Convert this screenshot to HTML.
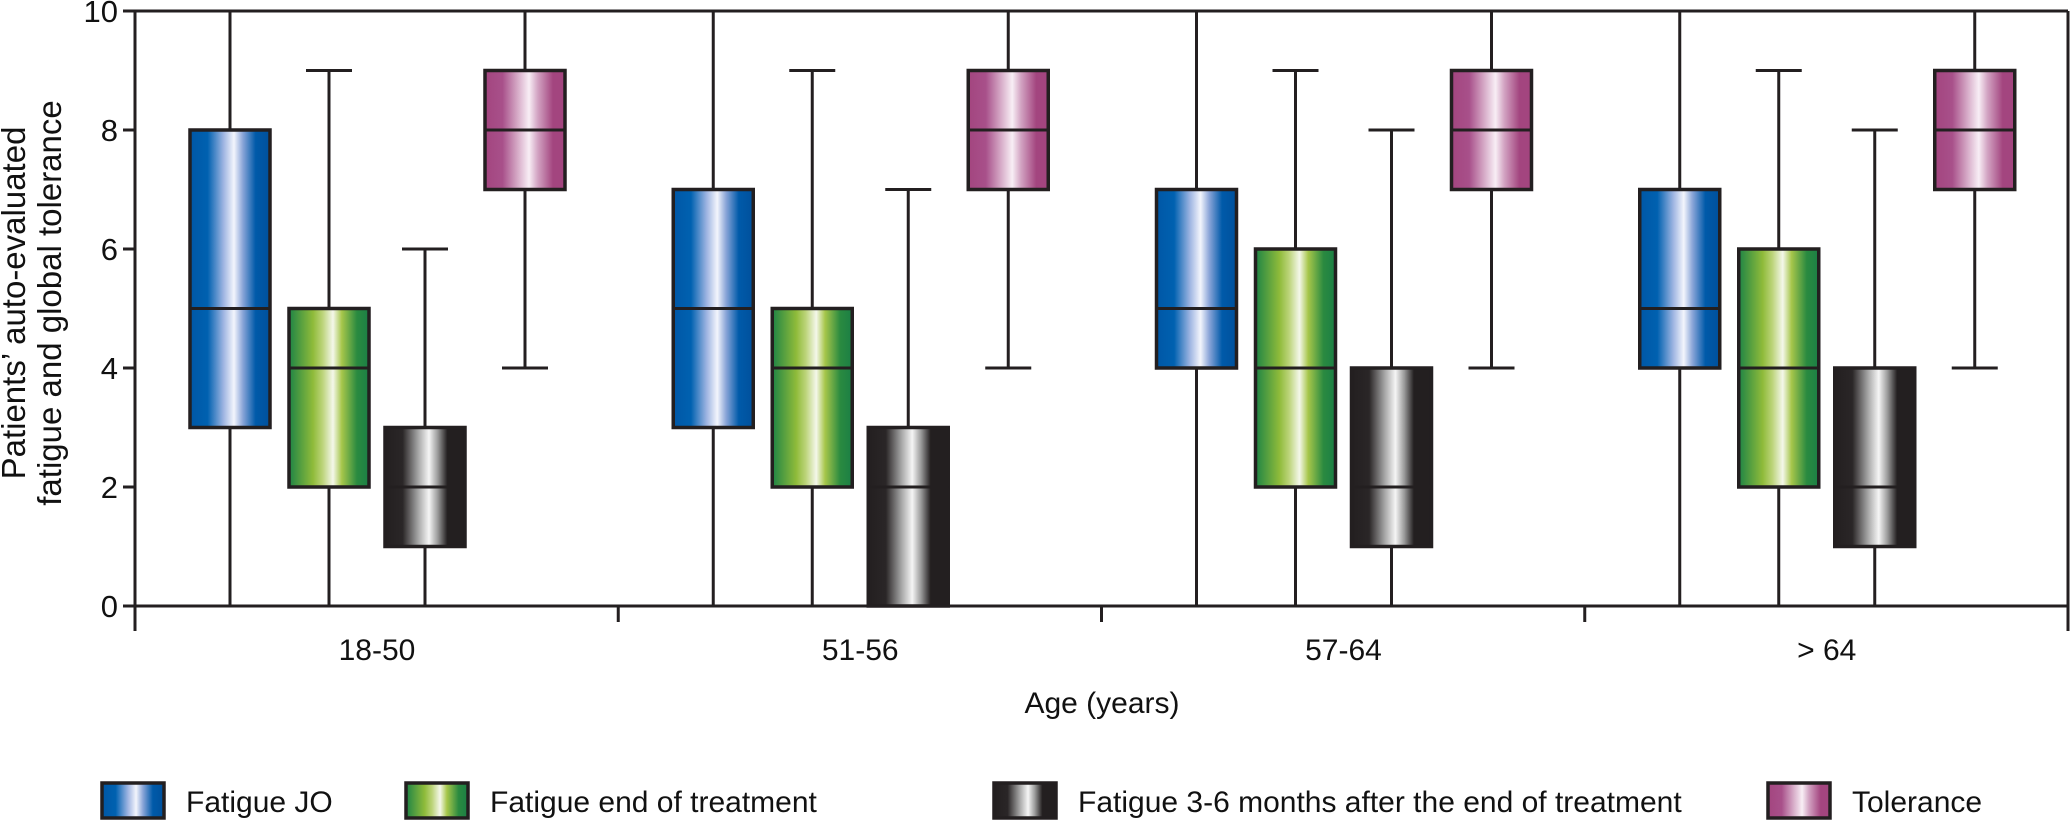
<!DOCTYPE html>
<html><head><meta charset="utf-8"><style>
html,body{margin:0;padding:0;background:#fff;}
svg{display:block;font-family:"Liberation Sans",sans-serif;}
</style></head><body>
<svg id="chart" width="2072" height="822" viewBox="0 0 2072 822" xmlns="http://www.w3.org/2000/svg">
<defs>
<linearGradient id="g-blue" x1="0" x2="1" y1="0" y2="0">
<stop offset="0" stop-color="#0057a6"/><stop offset="0.22" stop-color="#0061b0"/><stop offset="0.42" stop-color="#9fb5e2"/><stop offset="0.55" stop-color="#f3f5fc"/><stop offset="0.66" stop-color="#8aa5d8"/><stop offset="0.82" stop-color="#005aa9"/><stop offset="1" stop-color="#00509c"/></linearGradient>
<linearGradient id="g-green" x1="0" x2="1" y1="0" y2="0">
<stop offset="0" stop-color="#1e8445"/><stop offset="0.3" stop-color="#8fbb3a"/><stop offset="0.42" stop-color="#bcd47a"/><stop offset="0.55" stop-color="#f4f7ea"/><stop offset="0.66" stop-color="#a6c64a"/><stop offset="0.85" stop-color="#2a8a40"/><stop offset="1" stop-color="#1b7f45"/></linearGradient>
<linearGradient id="g-black" x1="0" x2="1" y1="0" y2="0">
<stop offset="0" stop-color="#231f20"/><stop offset="0.22" stop-color="#2a2627"/><stop offset="0.42" stop-color="#a9a9a9"/><stop offset="0.55" stop-color="#f5f5f5"/><stop offset="0.66" stop-color="#9a9a9a"/><stop offset="0.78" stop-color="#231f20"/><stop offset="1" stop-color="#231f20"/></linearGradient>
<linearGradient id="g-pink" x1="0" x2="1" y1="0" y2="0">
<stop offset="0" stop-color="#a3457f"/><stop offset="0.22" stop-color="#a8508a"/><stop offset="0.42" stop-color="#d9b0cb"/><stop offset="0.55" stop-color="#f8eef5"/><stop offset="0.66" stop-color="#d2a3c2"/><stop offset="0.85" stop-color="#a3457f"/><stop offset="1" stop-color="#a3457f"/></linearGradient>
</defs>
<g id="plot"></g>
</svg>
<script>
const categories = ["18-50", "51-56", "57-64", "> 64"];
const seriesNames = ["Fatigue JO", "Fatigue end of treatment", "Fatigue 3-6 months after the end of treatment", "Tolerance"];
// each entry: [min, q1, median, q3, max]
const fatigueJO = [[0,3,5,8,10],[0,3,5,7,10],[0,4,5,7,10],[0,4,5,7,10]];
const fatigueEnd = [[0,2,4,5,9],[0,2,4,5,9],[0,2,4,6,9],[0,2,4,6,9]];
const fatigueLater = [[0,1,2,3,6],[0,0,2,3,7],[0,1,2,4,8],[0,1,2,4,8]];
const tolerance = [[4,7,8,9,10],[4,7,8,9,10],[4,7,8,9,10],[4,7,8,9,10]];
const yTicks = [0,2,4,6,8,10];

const NS = "http://www.w3.org/2000/svg";
const plot = document.getElementById('plot');
const X0 = 135, X1 = 2068, Y0 = 606, Y1 = 11;
const yMax = 10;
const groupW = (X1 - X0) / categories.length;
const y = v => Y0 - (v / yMax) * (Y0 - Y1);
const offsets = [95, 194, 290, 390];
const boxW = 80, capW = 46;
const series = [fatigueJO, fatigueEnd, fatigueLater, tolerance];
const grads = ["g-blue","g-green","g-black","g-pink"];
const keys = ["fatigue-jo","fatigue-end","fatigue-later","tolerance"];
const ink = "#231f20";
function el(tag, attrs, parent){const e=document.createElementNS(NS,tag);for(const k in attrs)e.setAttribute(k,attrs[k]);(parent||plot).appendChild(e);return e;}
function txt(s, attrs, parent){const t=el('text',attrs,parent);t.textContent=s;return t;}

series.forEach((data, si) => {
  data.forEach((d, ci) => {
    const cx = X0 + ci * groupW + offsets[si];
    const g = el('g', {});
    
    
    const [mn, q1, md, q3, mx] = d;
    const w1 = el('line', {x1:cx, x2:cx, y1:y(q3), y2:y(mx), stroke:ink, 'stroke-width':3}, g);
    
    
    const w2 = el('line', {x1:cx, x2:cx, y1:y(q1), y2:y(mn), stroke:ink, 'stroke-width':3}, g);
    
    
    if (mx < yMax) { const c = el('line', {x1:cx-capW/2, x2:cx+capW/2, y1:y(mx), y2:y(mx), stroke:ink, 'stroke-width':3}, g);   }
    if (mn > 0) { const c = el('line', {x1:cx-capW/2, x2:cx+capW/2, y1:y(mn), y2:y(mn), stroke:ink, 'stroke-width':3}, g);   }
    const r = el('rect', {x:cx-boxW/2, y:y(q3), width:boxW, height:y(q1)-y(q3), fill:'url(#'+grads[si]+')', stroke:ink, 'stroke-width':3.5}, g);
    
    
    const m = el('line', {x1:cx-boxW/2, x2:cx+boxW/2, y1:y(md), y2:y(md), stroke:ink, 'stroke-width':3}, g);
    
    
  });
});

const ax = el('g', {});


el('line', {x1:X0, x2:X0, y1:Y1, y2:Y0+25, stroke:ink, 'stroke-width':3}, ax);
el('line', {x1:X0, x2:X1, y1:Y1, y2:Y1, stroke:ink, 'stroke-width':3}, ax);
el('line', {x1:X1, x2:X1, y1:Y1, y2:Y0+25, stroke:ink, 'stroke-width':3}, ax);
el('line', {x1:X0, x2:X1, y1:Y0, y2:Y0, stroke:ink, 'stroke-width':3}, ax);
for (let i = 1; i < categories.length; i++) {
  const xs = X0 + i * groupW;
  el('line', {x1:xs, x2:xs, y1:Y0, y2:Y0+16, stroke:ink, 'stroke-width':3}, ax);
}
yTicks.forEach(v => {
  el('line', {x1:X0-12, x2:X0, y1:y(v), y2:y(v), stroke:ink, 'stroke-width':3}, ax);
  const t = txt(String(v), {x:X0-17, y:y(v)+11, 'text-anchor':'end', 'font-size':31, fill:'#111'}, ax);
  
  
});
categories.forEach((c, i) => {
  const t = txt(c, {x:X0 + i*groupW + 242, y:660, 'text-anchor':'middle', 'font-size':30, fill:'#111'}, ax);
  
  
});
const xt = txt('Age (years)', {x:1102, y:713, 'text-anchor':'middle', 'font-size':30, fill:'#111'}, ax);


const yt = el('text', {transform:'translate(0,303) rotate(-90)', 'text-anchor':'middle', 'font-size':33, fill:'#111'}, ax);


const l1 = el('tspan', {x:0, y:25}, yt); l1.textContent = "Patients\u2019 auto-evaluated";
const l2 = el('tspan', {x:0, y:61}, yt); l2.textContent = "fatigue and global tolerance";

const legX = [102, 406, 994, 1768];
const legend = el('g', {});


seriesNames.forEach((n, i) => {
  const g = el('g', {}, legend);
  
  
  el('rect', {x:legX[i], y:783, width:62, height:35, fill:'url(#'+grads[i]+')', stroke:ink, 'stroke-width':3.5}, g);
  txt(n, {x:legX[i]+84, y:812, 'font-size':30, fill:'#111'}, g);
});
</script>
</body></html>
